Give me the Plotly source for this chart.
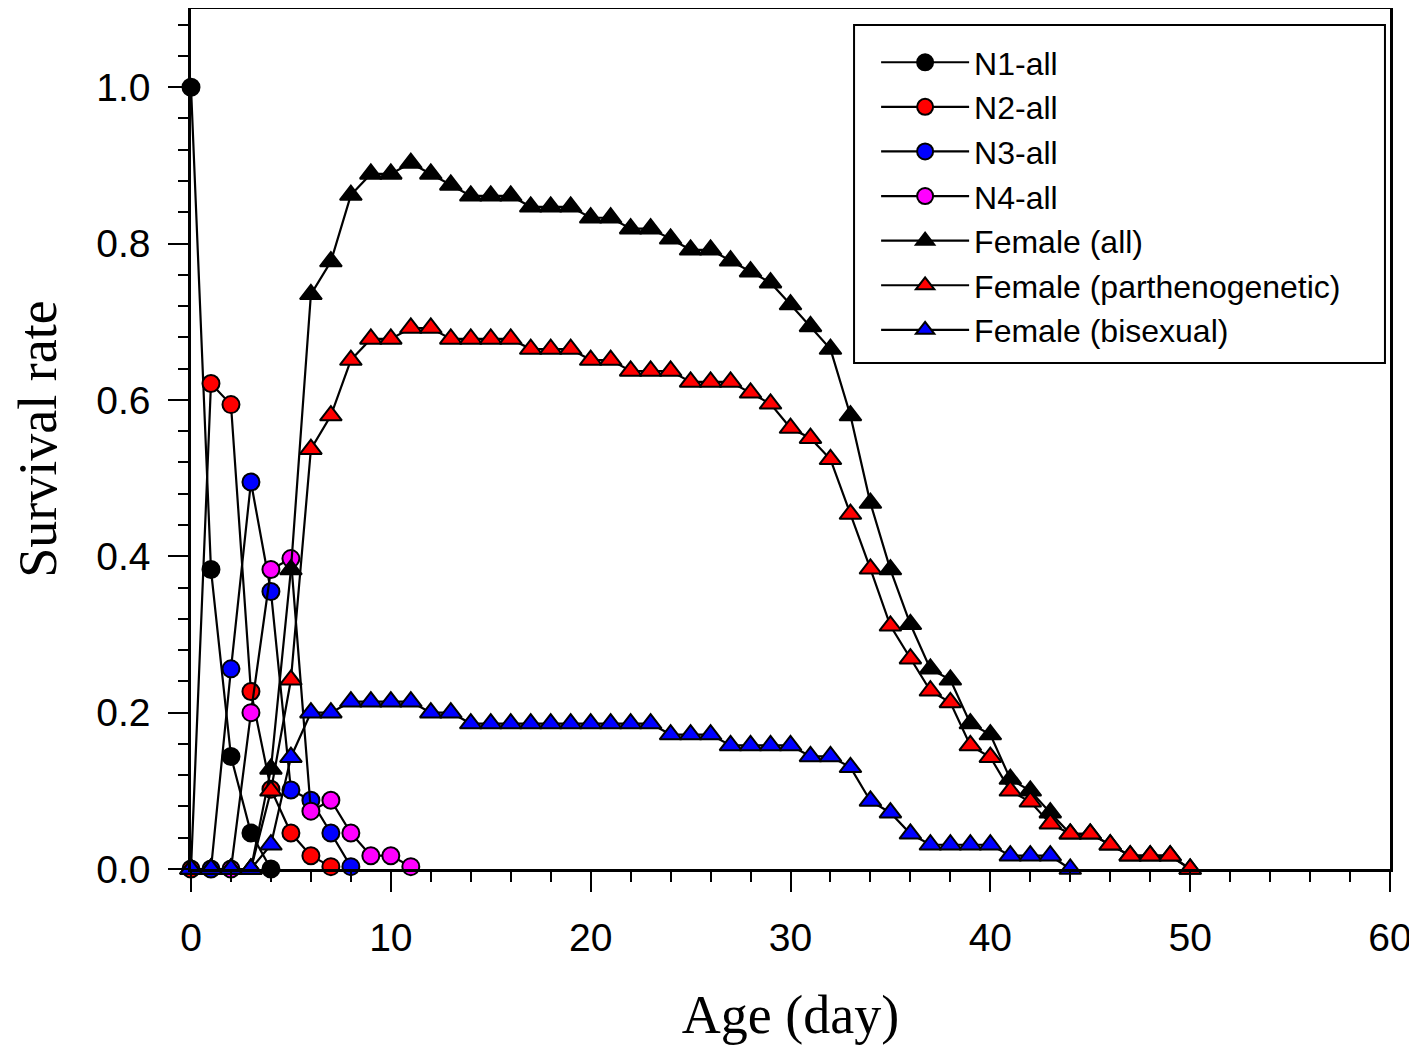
import plotly.graph_objects as go

# ---- data ----
n1_age = [0, 1, 2, 3, 4]
n1_val = [1.0, 0.383, 0.144, 0.046, 0.0]

n2_age = [0, 1, 2, 3, 4, 5, 6, 7]
n2_val = [0.0, 0.621, 0.594, 0.227, 0.102, 0.046, 0.017, 0.003]

n3_age = [1, 2, 3, 4, 5, 6, 7, 8]
n3_val = [0.0, 0.256, 0.495, 0.355, 0.101, 0.088, 0.046, 0.003]

n4_age = [2, 3, 4, 5, 6, 7, 8, 9, 10, 11]
n4_val = [0.0, 0.2, 0.383, 0.397, 0.074, 0.088, 0.046, 0.017, 0.017, 0.003]

fall_age = list(range(0, 51))
fall_val = [0.0, 0.0, 0.0, 0.0, 0.128, 0.383, 0.735, 0.777, 0.862, 0.889,
            0.889, 0.903, 0.889, 0.875, 0.861, 0.861, 0.861, 0.847, 0.847, 0.847,
            0.833, 0.833, 0.819, 0.819, 0.806, 0.792, 0.792, 0.778, 0.764, 0.75,
            0.722, 0.694, 0.665, 0.58, 0.468, 0.383, 0.313, 0.256, 0.242, 0.186,
            0.172, 0.115, 0.1, 0.072, 0.045, 0.045, 0.031, 0.017, 0.017, 0.017,
            0.0]

fpar_age = list(range(0, 51))
fpar_val = [0.0, 0.0, 0.0, 0.0, 0.1, 0.242, 0.537, 0.58, 0.651, 0.678,
            0.678, 0.692, 0.692, 0.678, 0.678, 0.678, 0.678, 0.665, 0.665, 0.665,
            0.651, 0.651, 0.637, 0.637, 0.637, 0.623, 0.623, 0.623, 0.609, 0.595,
            0.564, 0.551, 0.524, 0.454, 0.384, 0.311, 0.269, 0.228, 0.213, 0.158,
            0.143, 0.1, 0.086, 0.058, 0.045, 0.045, 0.031, 0.017, 0.017, 0.017,
            0.0]

fbi_age = list(range(0, 45))
fbi_val = [0.0, 0.0, 0.0, 0.0, 0.031, 0.143, 0.2, 0.2, 0.214, 0.214,
           0.214, 0.214, 0.2, 0.2, 0.186, 0.186, 0.186, 0.186, 0.186, 0.186,
           0.186, 0.186, 0.186, 0.186, 0.172, 0.172, 0.172, 0.158, 0.158, 0.158,
           0.158, 0.144, 0.144, 0.13, 0.087, 0.072, 0.045, 0.031, 0.031, 0.031,
           0.031, 0.017, 0.017, 0.017, 0.0]

series = [
    ("N1-all", n1_age, n1_val, "circle", "#000000"),
    ("N2-all", n2_age, n2_val, "circle", "#ff0000"),
    ("N3-all", n3_age, n3_val, "circle", "#0000ff"),
    ("N4-all", n4_age, n4_val, "circle", "#ff00ff"),
    ("Female (all)", fall_age, fall_val, "triangle-up", "#000000"),
    ("Female (parthenogenetic)", fpar_age, fpar_val, "triangle-up", "#ff0000"),
    ("Female (bisexual)", fbi_age, fbi_val, "triangle-up", "#0000ff"),
]

fig = go.Figure()
for name, xs, ys, sym, col in series:
    fig.add_trace(go.Scatter(
        x=xs, y=ys, name=name, mode="lines+markers",
        line=dict(color="black", width=2.2),
        marker=dict(symbol=sym, size=17 if sym == "circle" else 19, color=col,
                    line=dict(color="black", width=2)),
        cliponaxis=False,
    ))

axis_common = dict(
    showline=True, linecolor="black", linewidth=2.5, mirror=True,
    showgrid=False, zeroline=False, automargin=False,
    ticks="outside", ticklen=20, tickwidth=2, tickcolor="black",
    tickfont=dict(family="Liberation Sans, Arial", size=39, color="black"),
    ticklabeloverflow="allow",
)

title_font = dict(family="Liberation Serif, Times New Roman", size=54, color="black")

fig.update_xaxes(
    range=[0, 60], dtick=10, tick0=0, ticklabelstandoff=12,
    minor=dict(ticks="outside", ticklen=10, tickwidth=2, tickcolor="black", dtick=2),
    title=dict(text="Age (day)", font=title_font, standoff=46),
    **axis_common,
)
fig.update_yaxes(
    range=[0, 1.1], dtick=0.2, tick0=0, tickformat=".1f", ticklabelstandoff=10,
    minor=dict(ticks="outside", ticklen=10, tickwidth=2, tickcolor="black", dtick=0.04),
    title=dict(text="Survival rate", font=title_font, standoff=25),
    **axis_common,
)

# legend frame (drawn as a shape so its size matches the original box)
fig.add_shape(type="rect", xref="paper", yref="paper",
              x0=0.553, x1=0.9958, y0=0.5884, y1=0.9814,
              line=dict(color="black", width=2), fillcolor="rgba(0,0,0,0)",
              layer="above")

fig.update_layout(
    width=1409, height=1037,
    margin=dict(l=183, r=27, t=1, b=176),
    paper_bgcolor="white", plot_bgcolor="white",
    showlegend=True,
    legend=dict(
        x=0.5714, y=0.9698, xanchor="left", yanchor="top",
        bgcolor="rgba(0,0,0,0)", borderwidth=0,
        font=dict(family="Liberation Sans, Arial", size=32, color="black"),
        itemwidth=88,
    ),
)

fig.write_html("out.html")
